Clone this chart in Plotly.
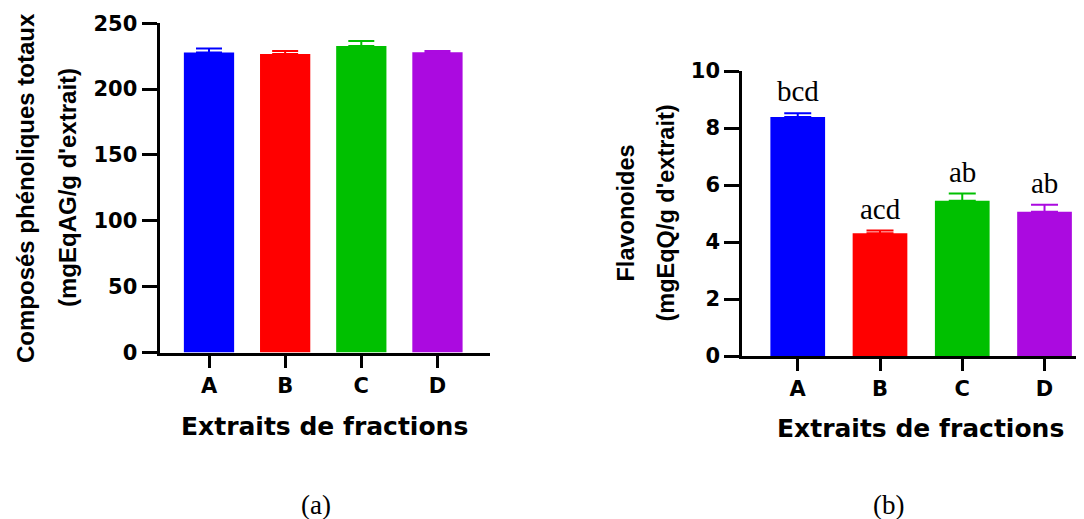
import plotly.graph_objects as go

# The page body has an 8px margin, so the figure is drawn 8px in from the
# window's top-left corner; coordinates below are window pixels.
OFF = 8
W, H = 1084 - OFF, 519 - OFF

categories = ["A", "B", "C", "D"]
bar_colors = ["#0000FF", "#FF0000", "#00C000", "#AB0AE0"]

# Panel (a): total phenolics
phenol_values = [227.8, 226.6, 232.7, 228.1]
phenol_errors = [3.0, 2.3, 3.8, 0.8]
phenol_ticks = [0, 50, 100, 150, 200, 250]

# Panel (b): flavonoids
flavo_values = [8.39, 4.31, 5.45, 5.06]
flavo_errors = [0.13, 0.09, 0.25, 0.25]
flavo_ticks = [0, 2, 4, 6, 8, 10]
flavo_letters = ["bcd", "acd", "ab", "ab"]

x_title = "Extraits de fractions"
y_title_a = ["Composés phénoliques totaux", "(mgEqAG/g d'extrait)"]
y_title_b = ["Flavonoides", "(mgEqQ/g d'extrait)"]
captions = ["(a)", "(b)"]


def px(x):
    return min(1.0, max(0.0, (x - OFF) / W))


def py(y):
    return min(1.0, max(0.0, 1 - (y - OFF) / H))


sans_bold = "DejaVu Sans"
arial = "Liberation Sans, Arial"
serif = "Liberation Serif, Times New Roman"

fig = go.Figure()

fig.add_trace(go.Bar(
    x=categories, y=phenol_values, marker=dict(color=bar_colors, line=dict(width=0)),
    width=0.66, xaxis="x", yaxis="y", showlegend=False,
))
fig.add_trace(go.Bar(
    x=categories, y=flavo_values, marker=dict(color=bar_colors, line=dict(width=0)),
    width=0.665, xaxis="x2", yaxis="y2", showlegend=False,
))

# per-bar coloured error bars (upper half only, as in the original)
for i, c in enumerate(categories):
    fig.add_trace(go.Scatter(
        x=[c], y=[phenol_values[i]], mode="markers", marker=dict(size=0.1, opacity=0),
        error_y=dict(type="data", array=[phenol_errors[i]], arrayminus=[0], symmetric=False,
                     color=bar_colors[i], thickness=2, width=13),
        xaxis="x", yaxis="y", showlegend=False, hoverinfo="skip",
    ))
    fig.add_trace(go.Scatter(
        x=[c], y=[flavo_values[i]], mode="markers", marker=dict(size=0.1, opacity=0),
        error_y=dict(type="data", array=[flavo_errors[i]], arrayminus=[0], symmetric=False,
                     color=bar_colors[i], thickness=2, width=13.5),
        xaxis="x2", yaxis="y2", showlegend=False, hoverinfo="skip",
    ))

tick_font = dict(family=sans_bold, size=21, color="black", weight="bold")
axis_common = dict(showline=True, linecolor="black", linewidth=3, ticks="outside",
                   tickwidth=3, tickcolor="black", showgrid=False, zeroline=False,
                   automargin=False, tickfont=tick_font)

fig.update_layout(
    template="none",
    width=W, height=H, autosize=False,
    margin=dict(l=0, r=0, t=0, b=0, pad=0, autoexpand=False),
    paper_bgcolor="white", plot_bgcolor="white",
    showlegend=False,
    xaxis=dict(domain=[px(159.5), px(490)], range=[-0.65, 3.69], type="category",
               ticklen=12, anchor="y", **axis_common),
    yaxis=dict(domain=[py(352.5), py(23.3)], range=[0, 250], tickvals=phenol_ticks,
               ticklen=15, anchor="x", **axis_common),
    xaxis2=dict(domain=[px(742.3), 1.0], range=[-0.674, 3.48], type="category",
                ticklen=12, anchor="y2", **axis_common),
    yaxis2=dict(domain=[py(356), py(71)], range=[0, 10], tickvals=flavo_ticks,
                ticklen=15, anchor="x2", **axis_common),
)

ann = []
# significance letters
for i, c in enumerate(categories):
    ann.append(dict(x=c, y=flavo_values[i] + flavo_errors[i], xref="x2", yref="y2",
                    text=flavo_letters[i], showarrow=False, yanchor="bottom", yshift=4,
                    font=dict(family=serif, size=29, color="black")))

# x titles
ann.append(dict(x=px(324), y=py(426), xref="paper", yref="paper", text=x_title,
                showarrow=False, xanchor="center", yanchor="middle",
                font=dict(family=sans_bold, size=25, color="black", weight="bold")))
ann.append(dict(x=px(920), y=py(428), xref="paper", yref="paper", text=x_title,
                showarrow=False, xanchor="center", yanchor="middle",
                font=dict(family=sans_bold, size=25, color="black", weight="bold")))

# y titles (two lines each)
for text, xc in zip(y_title_a, [25, 67]):
    ann.append(dict(x=px(xc), y=py(188), xref="paper", yref="paper", text=text,
                    showarrow=False, textangle=-90, xanchor="center", yanchor="middle",
                    font=dict(family=arial, size=24, color="black", weight="bold")))
for text, xc in zip(y_title_b, [625, 665]):
    ann.append(dict(x=px(xc), y=py(213.5), xref="paper", yref="paper", text=text,
                    showarrow=False, textangle=-90, xanchor="center", yanchor="middle",
                    font=dict(family=arial, size=23.5, color="black", weight="bold")))

# captions
for text, xc in zip(captions, [316, 888]):
    ann.append(dict(x=px(xc), y=py(505), xref="paper", yref="paper", text=text,
                    showarrow=False, xanchor="center", yanchor="middle",
                    font=dict(family=serif, size=27, color="black")))

fig.update_layout(annotations=ann)

fig.write_html("out.html")
